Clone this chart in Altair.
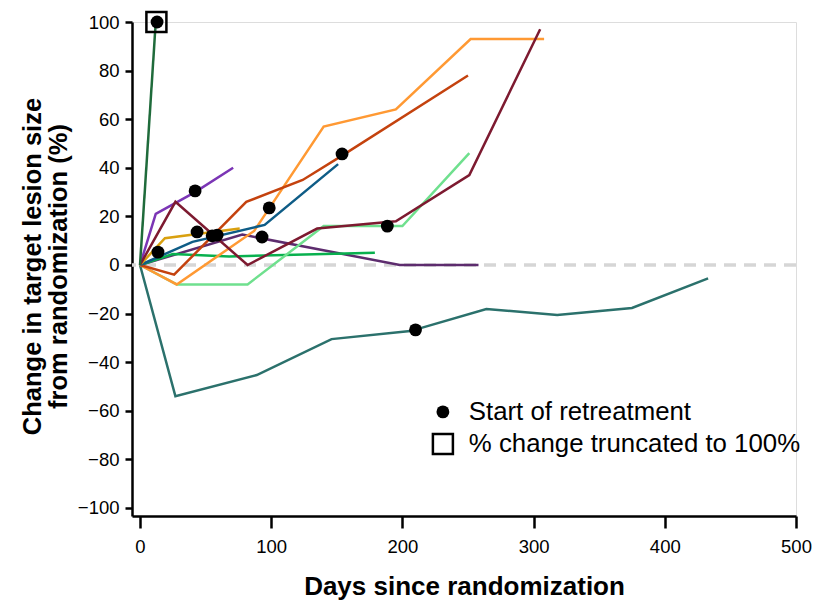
import altair as alt
import pandas as pd

# ---- data ----
series_names = ["S1", "S2", "S3", "S4", "S5", "S6", "S7", "S8", "S9", "S10", "S11"]
series_colors = ["#2b716c", "#5d2c6e", "#08b04e", "#6fe08e", "#ff9933", "#c4420e",
                 "#0e5c86", "#d9a00f", "#7b35b5", "#7d1a30", "#1f6b3b"]

s1_days = [0, 27, 89, 146, 206, 264, 318, 375, 433]
s1_pct = [0, -54, -45.3, -30.5, -27.2, -18.1, -20.6, -17.7, -5.5]
s2_days = [0, 78, 198, 258]
s2_pct = [0, 12.5, 0, 0]
s3_days = [0, 25, 68, 179]
s3_pct = [0, 4.5, 3.5, 5]
s4_days = [0, 28, 82, 140, 200, 251]
s4_pct = [0, -8, -8, 16, 16, 46]
s5_days = [0, 28, 87, 140, 195, 252, 308]
s5_pct = [0, -8, 14, 57, 64, 93, 93]
s6_days = [0, 26, 81, 124, 154, 250]
s6_pct = [0, -4, 26, 35, 45, 78]
s7_days = [0, 40, 95, 151]
s7_pct = [0, 9.5, 16.5, 41.5]
s8_days = [0, 19, 76]
s8_pct = [0, 11, 15]
s9_days = [0, 12, 42, 71]
s9_pct = [0, 21, 30, 40]
s10_days = [0, 27, 82, 135, 195, 251, 305]
s10_pct = [0, 26, 0, 15, 18, 37, 97]
s11_days = [0, 12]
s11_pct = [0, 100]

dot_days = [13, 13.7, 42, 43.5, 55, 58.8, 93, 98.5, 154, 188.5, 210]
dot_pct = [100, 5.3, 30.5, 13.6, 12, 12.3, 11.5, 23.5, 45.7, 16, -26.7]
trunc_days = [12.5]
trunc_pct = [100]

x_ticks = [0, 100, 200, 300, 400, 500]
y_ticks = [-100, -80, -60, -40, -20, 0, 20, 40, 60, 80, 100]

marker_kinds = ["Start of retreatment", "% change truncated to 100%"]

# ---- build tables ----
all_days = [s1_days, s2_days, s3_days, s4_days, s5_days, s6_days, s7_days,
            s8_days, s9_days, s10_days, s11_days]
all_pct = [s1_pct, s2_pct, s3_pct, s4_pct, s5_pct, s6_pct, s7_pct,
           s8_pct, s9_pct, s10_pct, s11_pct]
rows = []
for name, ds, ps in zip(series_names, all_days, all_pct):
    for i, (d, p) in enumerate(zip(ds, ps)):
        rows.append({"series": name, "day": d, "pct": p, "idx": i})
lines_df = pd.DataFrame(rows)

mrows = []
for d, p in zip(trunc_days, trunc_pct):
    mrows.append({"day": d, "pct": p, "kind": marker_kinds[1]})
for d, p in zip(dot_days, dot_pct):
    mrows.append({"day": d, "pct": p, "kind": marker_kinds[0]})
markers_df = pd.DataFrame(mrows)

FONT = "Liberation Sans"

x_scale = alt.Scale(domain=[-6.1, 500], nice=False, zero=False)
y_scale = alt.Scale(domain=[-103.3, 100], nice=False, zero=False)

x_axis = alt.Axis(values=x_ticks, title="Days since randomization", grid=False,
                  domainColor="black", domainWidth=2.5, tickColor="black",
                  tickWidth=2.5, tickSize=12, labelFont=FONT, labelFontSize=18.5,
                  labelColor="black", labelPadding=9, titleFont=FONT,
                  titleFontSize=26, titleFontWeight="bold", titleColor="black",
                  titleY=78, titleBaseline="alphabetic", labelFlush=False)
y_axis = alt.Axis(values=y_ticks,
                  title=["Change in target lesion size", "from randomization (%)"],
                  grid=False, domainColor="black", domainWidth=2.5,
                  tickColor="black", tickWidth=2.5, tickSize=7, labelFont=FONT,
                  labelFontSize=18.5, labelColor="black", labelPadding=6,
                  titleFont=FONT, titleFontSize=25.5, titleFontWeight="bold",
                  titleColor="black", titleAngle=270, titleX=-92, titleY=244,
                  titleBaseline="alphabetic", titleAlign="center",
                  titleLineHeight=26, labelFlush=False)

zero_rule = alt.Chart(pd.DataFrame({"z": [0]})).mark_rule(
    color="#d6d6d6", strokeWidth=3.5, strokeDash=[12, 8]
).encode(y=alt.Y("z:Q", scale=y_scale, axis=y_axis))

lines = alt.Chart(lines_df).mark_line(strokeWidth=2.5).encode(
    x=alt.X("day:Q", scale=x_scale, axis=x_axis),
    y=alt.Y("pct:Q", scale=y_scale, axis=y_axis),
    color=alt.Color("series:N", scale=alt.Scale(domain=series_names, range=series_colors),
                    legend=None),
    order=alt.Order("idx:Q"),
)

leg = alt.Legend(orient="none", legendX=298, legendY=377, title=None,
                 labelFont=FONT, labelFontSize=25.8, labelColor="black",
                 labelOffset=13, rowPadding=3, labelLimit=0,
                 symbolStrokeColor="black", padding=0)

markers = alt.Chart(markers_df).mark_point(filled=True, stroke="black", opacity=1).encode(
    x=alt.X("day:Q", scale=x_scale, axis=x_axis),
    y=alt.Y("pct:Q", scale=y_scale, axis=y_axis),
    shape=alt.Shape("kind:N", scale=alt.Scale(domain=marker_kinds, range=["circle", "square"]),
                    legend=leg),
    fill=alt.Fill("kind:N", scale=alt.Scale(domain=marker_kinds, range=["black", "transparent"]),
                  legend=leg),
    stroke=alt.Stroke("kind:N", scale=alt.Scale(domain=marker_kinds, range=["black", "black"]),
                      legend=leg),
    size=alt.Size("kind:N", scale=alt.Scale(domain=marker_kinds, range=[165, 400]),
                  legend=leg),
    strokeWidth=alt.StrokeWidth("kind:N", scale=alt.Scale(domain=marker_kinds, range=[0, 2.5]),
                                legend=leg),
)

chart = alt.layer(zero_rule, lines, markers).properties(
    width=664, height=494,
    padding={"left": 132, "top": 22, "right": 22, "bottom": 84},
    autosize=alt.AutoSizeParams(type="none"),
).configure_view(stroke=None).configure(background="white")

chart.save("out.html", embed_options={"renderer": "svg", "actions": False})
